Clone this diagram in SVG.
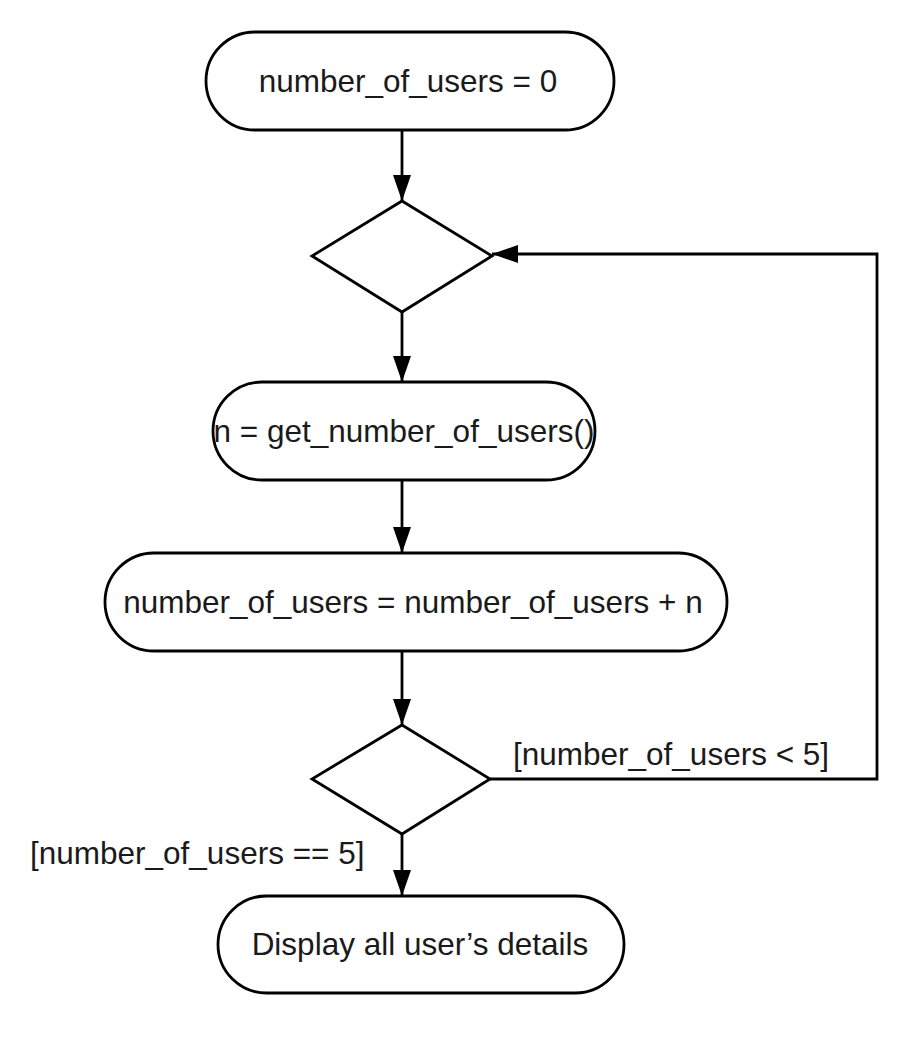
<svg xmlns="http://www.w3.org/2000/svg" width="922" height="1056" viewBox="0 0 922 1056">
<style>
.n{fill:#fff;stroke:#000;stroke-width:2.8}
.t{font-family:"Liberation Sans",Arial,sans-serif;font-size:31.5px;fill:#1a1a1a;text-anchor:middle}
.l{font-family:"Liberation Sans",Arial,sans-serif;font-size:31.5px;fill:#1a1a1a}
.c{fill:none;stroke:#000;stroke-width:2.8}
</style>
<defs>
<marker id="ah" markerUnits="userSpaceOnUse" markerWidth="28" markerHeight="20" refX="26" refY="9" orient="auto">
<path d="M0,0 L26,9 L0,18 Z" fill="#000"/>
</marker>
</defs>
<rect width="922" height="1056" fill="#fff"/>
<g id="connectors">
<line class="c" x1="402" y1="130" x2="402" y2="201" marker-end="url(#ah)"/>
<line class="c" x1="402" y1="312" x2="402" y2="382" marker-end="url(#ah)"/>
<line class="c" x1="402" y1="480" x2="402" y2="553" marker-end="url(#ah)"/>
<line class="c" x1="402" y1="651" x2="402" y2="725" marker-end="url(#ah)"/>
<line class="c" x1="402" y1="834" x2="402" y2="896" marker-end="url(#ah)"/>
<polyline class="c" points="490,779 877,779 877,254 492,254" marker-end="url(#ah)"/>
<text class="l" x="513" y="765">[number_of_users &lt; 5]</text>
<text class="l" x="30" y="864">[number_of_users == 5]</text>
</g>
<g id="start">
<rect class="n" x="206" y="32" width="408" height="98" rx="49"/>
<text class="t" x="408" y="92">number_of_users = 0</text>
</g>
<g id="merge">
<polygon class="n" points="402,201 492,256 402,312 312,256"/>
</g>
<g id="get">
<rect class="n" x="213" y="382" width="382" height="98" rx="49"/>
<text class="t" x="404" y="442">n = get_number_of_users()</text>
</g>
<g id="add">
<rect class="n" x="105" y="553" width="622" height="98" rx="49"/>
<text class="t" x="413" y="613">number_of_users = number_of_users + n</text>
</g>
<g id="decision">
<polygon class="n" points="402,725 490,779 402,834 312,779"/>
</g>
<g id="display">
<rect class="n" x="218" y="896" width="406" height="97" rx="48.5"/>
<text class="t" x="420" y="955">Display all user’s details</text>
</g>
</svg>
